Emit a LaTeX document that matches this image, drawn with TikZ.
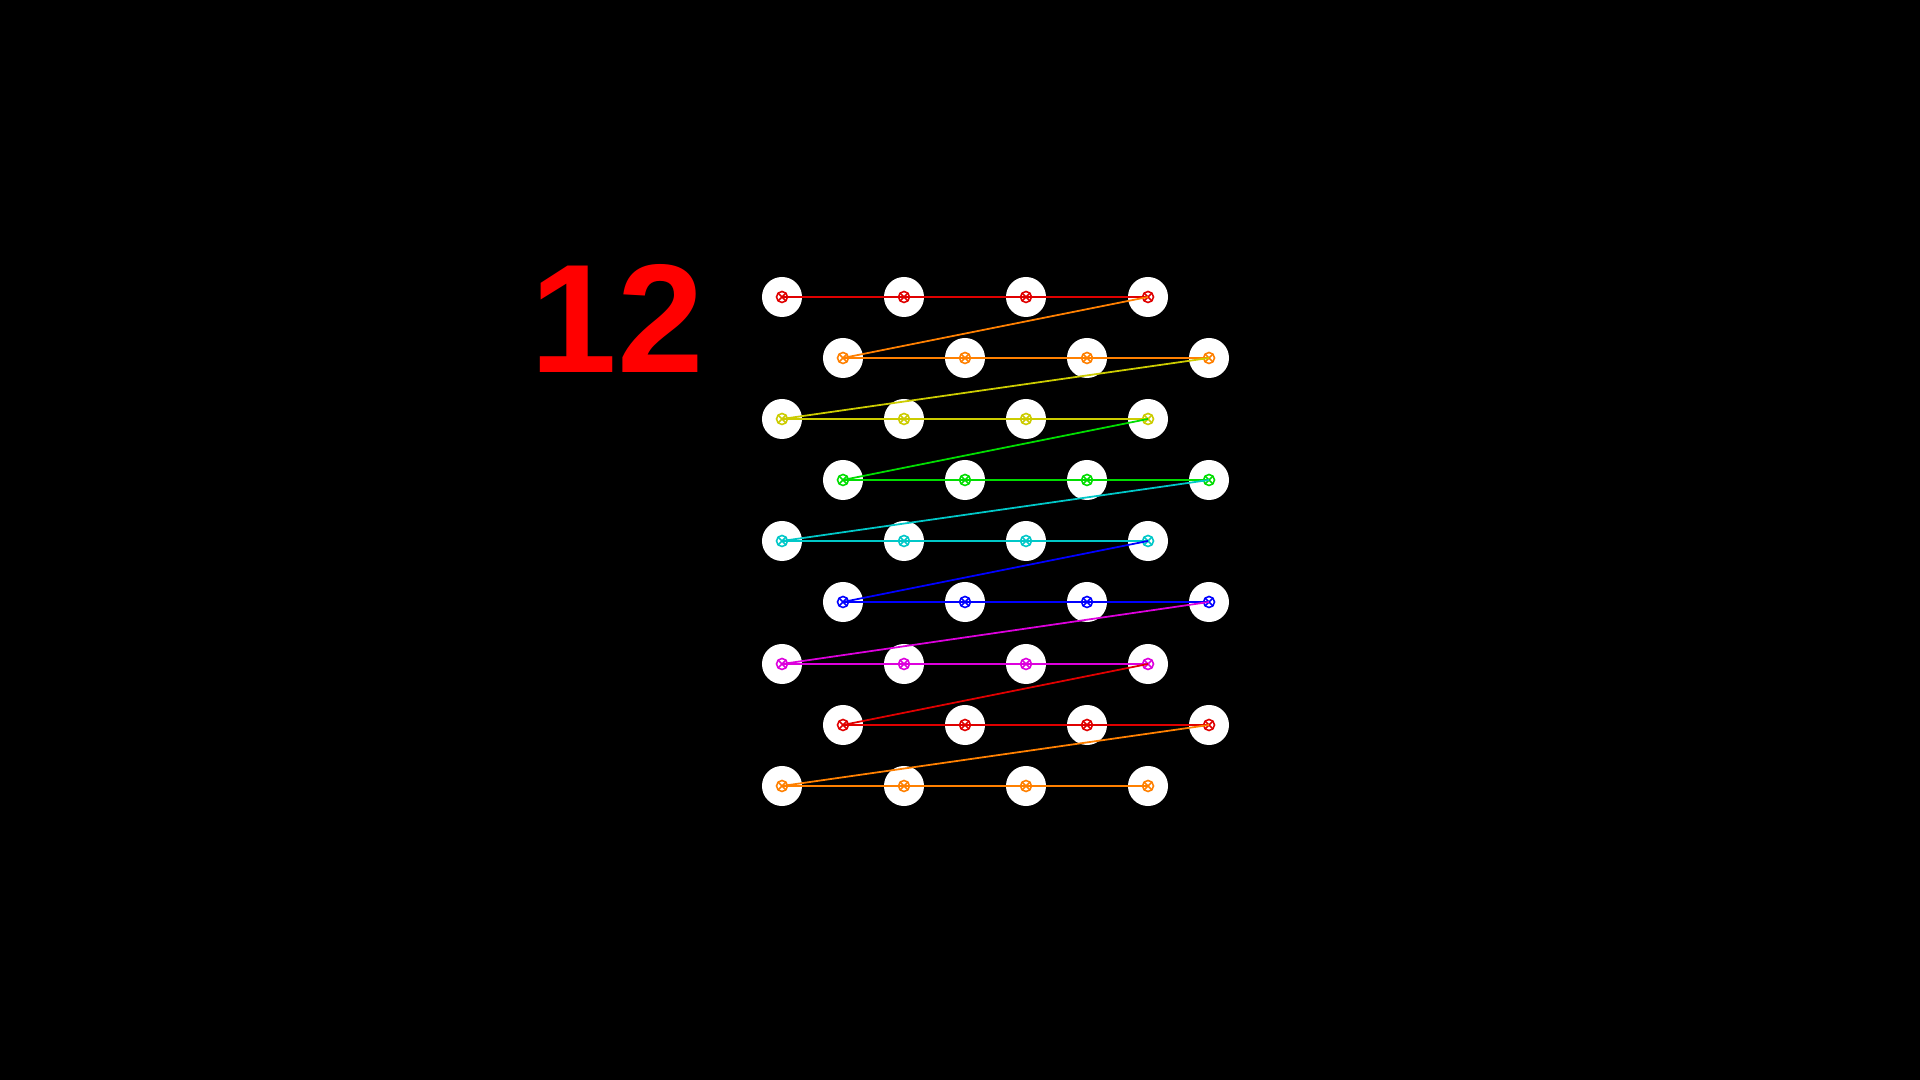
\documentclass[tikz,border=0pt]{standalone}
\usepackage{fontspec}
\newfontfamily\digitfont{Liberation Sans}
\usepackage{tikz}
\usetikzlibrary{positioning}
\definecolor{rowred}{HTML}{E00000}
\definecolor{roworange}{HTML}{FF8000}
\definecolor{rowyellow}{HTML}{CCCC00}
\definecolor{rowgreen}{HTML}{00DD00}
\definecolor{rowcyan}{HTML}{00C8C8}
\definecolor{rowblue}{HTML}{0000FF}
\definecolor{rowmagenta}{HTML}{DD00DD}
\tikzset{
	pinnode/.style={
			circle,
			fill=white,
			minimum size=4mm,
			inner sep=0pt,
			path picture={
				\draw[#1, line width=0.45pt] (path picture bounding box.center) circle (0.55mm);
				\draw[#1, line width=0.45pt]
				([shift={(-0.38mm,-0.38mm)}]path picture bounding box.center) -- ([shift={(0.38mm,0.38mm)}]path picture bounding box.center)
				([shift={(-0.38mm,0.38mm)}]path picture bounding box.center) -- ([shift={(0.38mm,-0.38mm)}]path picture bounding box.center);
			}
		},
	wire/.style={
			draw=#1,
			line width=0.5pt
		},
	countnode/.style={
			inner sep=0pt,
			anchor=north west,
			text=red,
			font=\digitfont\bfseries
		}
}
\begin{document}
\begin{tikzpicture}[x=0.01cm, y=-0.01cm]
\fill[black] (0,0) rectangle (1920,1080);
\useasboundingbox (0,0) rectangle (1920,1080);

\node[countnode] (count) at (530,264) {\resizebox{1.73cm}{1.08cm}{12}};

% row a
\node[pinnode=rowred] (a1) at (782,297) {};
\node[pinnode=rowred] (a2) at (904,297) {};
\node[pinnode=rowred] (a3) at (1026,297) {};
\node[pinnode=rowred] (a4) at (1148,297) {};
% row b
\node[pinnode=roworange] (b1) at (843,358) {};
\node[pinnode=roworange] (b2) at (965,358) {};
\node[pinnode=roworange] (b3) at (1087,358) {};
\node[pinnode=roworange] (b4) at (1209,358) {};
% row c
\node[pinnode=rowyellow] (c1) at (782,419) {};
\node[pinnode=rowyellow] (c2) at (904,419) {};
\node[pinnode=rowyellow] (c3) at (1026,419) {};
\node[pinnode=rowyellow] (c4) at (1148,419) {};
% row d
\node[pinnode=rowgreen] (d1) at (843,480) {};
\node[pinnode=rowgreen] (d2) at (965,480) {};
\node[pinnode=rowgreen] (d3) at (1087,480) {};
\node[pinnode=rowgreen] (d4) at (1209,480) {};
% row e
\node[pinnode=rowcyan] (e1) at (782,541) {};
\node[pinnode=rowcyan] (e2) at (904,541) {};
\node[pinnode=rowcyan] (e3) at (1026,541) {};
\node[pinnode=rowcyan] (e4) at (1148,541) {};
% row f
\node[pinnode=rowblue] (f1) at (843,602) {};
\node[pinnode=rowblue] (f2) at (965,602) {};
\node[pinnode=rowblue] (f3) at (1087,602) {};
\node[pinnode=rowblue] (f4) at (1209,602) {};
% row g
\node[pinnode=rowmagenta] (g1) at (782,664) {};
\node[pinnode=rowmagenta] (g2) at (904,664) {};
\node[pinnode=rowmagenta] (g3) at (1026,664) {};
\node[pinnode=rowmagenta] (g4) at (1148,664) {};
% row h
\node[pinnode=rowred] (h1) at (843,725) {};
\node[pinnode=rowred] (h2) at (965,725) {};
\node[pinnode=rowred] (h3) at (1087,725) {};
\node[pinnode=rowred] (h4) at (1209,725) {};
% row i
\node[pinnode=roworange] (i1) at (782,786) {};
\node[pinnode=roworange] (i2) at (904,786) {};
\node[pinnode=roworange] (i3) at (1026,786) {};
\node[pinnode=roworange] (i4) at (1148,786) {};

\draw[wire=rowred] (a1.center) -- (a4.center);
\draw[wire=roworange] (a4.center) -- (b1.center) -- (b4.center);
\draw[wire=rowyellow] (b4.center) -- (c1.center) -- (c4.center);
\draw[wire=rowgreen] (c4.center) -- (d1.center) -- (d4.center);
\draw[wire=rowcyan] (d4.center) -- (e1.center) -- (e4.center);
\draw[wire=rowblue] (e4.center) -- (f1.center) -- (f4.center);
\draw[wire=rowmagenta] (f4.center) -- (g1.center) -- (g4.center);
\draw[wire=rowred] (g4.center) -- (h1.center) -- (h4.center);
\draw[wire=roworange] (h4.center) -- (i1.center) -- (i4.center);

\end{tikzpicture}
\end{document}
